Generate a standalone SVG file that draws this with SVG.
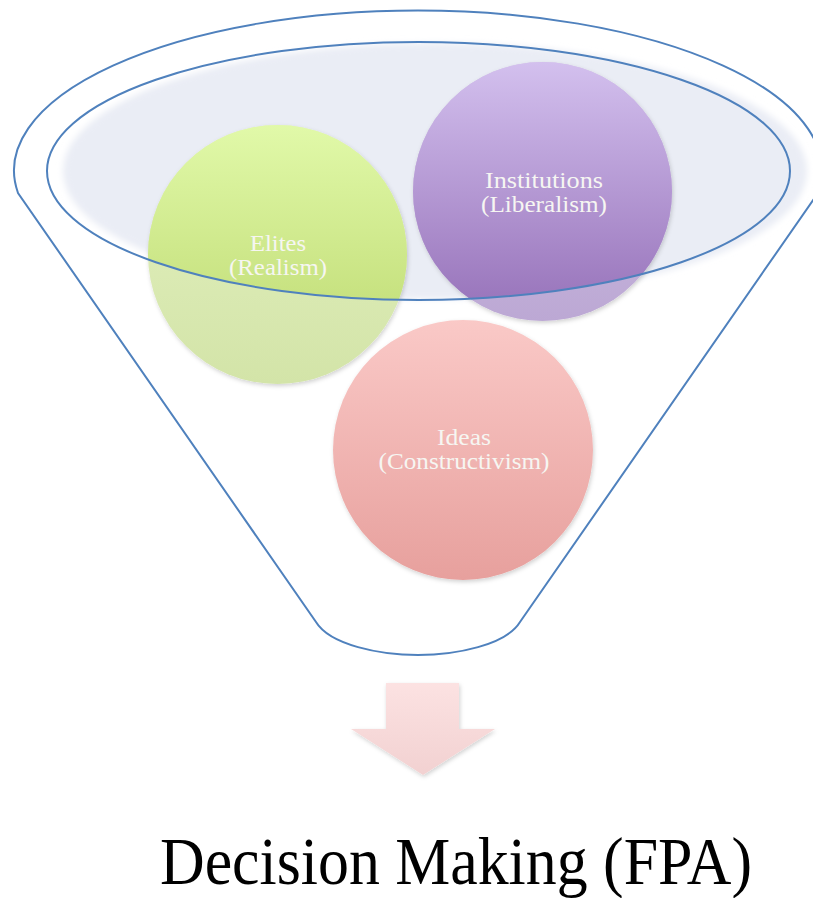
<svg xmlns="http://www.w3.org/2000/svg" width="813" height="898" viewBox="0 0 813 898">
  <defs>
    <style>
      .funnel { fill: none; stroke: #4f81bd; stroke-width: 2; }
      .lbl { font-family: "Liberation Serif", "DejaVu Serif", serif; font-size: 23.5px; fill: #f6f6f2; text-anchor: middle; }
      .title { font-family: "Liberation Serif", "DejaVu Serif", serif; font-size: 67px; fill: #000000; }
    </style>
    <linearGradient id="gGreen" x1="0" y1="0" x2="0" y2="1">
      <stop offset="0" stop-color="#e1f9a9"/>
      <stop offset="0.7" stop-color="#c6e17e"/>
      <stop offset="1" stop-color="#b9d96c"/>
    </linearGradient>
    <linearGradient id="gGreenPale" x1="0" y1="0" x2="0" y2="1">
      <stop offset="0" stop-color="#e4f2c2"/>
      <stop offset="1" stop-color="#d3e4a8"/>
    </linearGradient>
    <linearGradient id="gPurple" x1="0" y1="0" x2="0" y2="1">
      <stop offset="0" stop-color="#d3c0ee"/>
      <stop offset="1" stop-color="#9570b8"/>
    </linearGradient>
    <linearGradient id="gPurplePale" x1="0" y1="0" x2="0" y2="1">
      <stop offset="0" stop-color="#d3c4e6"/>
      <stop offset="1" stop-color="#bca8d4"/>
    </linearGradient>
    <linearGradient id="gPink" x1="0" y1="0" x2="0" y2="1">
      <stop offset="0" stop-color="#fac9c7"/>
      <stop offset="1" stop-color="#e7a09d"/>
    </linearGradient>
    <linearGradient id="gArrow" x1="0" y1="0" x2="0" y2="1">
      <stop offset="0" stop-color="#fce2e2"/>
      <stop offset="1" stop-color="#f2d1d1"/>
    </linearGradient>
    <clipPath id="inEllipse">
      <ellipse cx="418.5" cy="171" rx="371.5" ry="129"/>
    </clipPath>
    <filter id="blur" x="-5%" y="-10%" width="110%" height="120%">
      <feGaussianBlur stdDeviation="3"/>
    </filter>
    <filter id="shadow" x="-10%" y="-10%" width="125%" height="125%">
      <feDropShadow dx="1" dy="2" stdDeviation="2" flood-color="#000000" flood-opacity="0.18"/>
    </filter>
  </defs>

  <rect width="813" height="898" fill="#ffffff"/>

  <g id="funnel">
    <path class="funnel" d="M18,193 A404,160 0 1,1 818,193 L520,622 C506,645 456,655 418,655 C380,655 330,645 316,622 Z"/>
    <ellipse cx="435" cy="171" rx="372" ry="128" fill="#eaedf5" filter="url(#blur)"/>
  </g>

  <g id="node-elites">
    <circle cx="277.5" cy="254.5" r="129.5" fill="url(#gGreenPale)" filter="url(#shadow)"/>
    <circle cx="277.5" cy="254.5" r="129.5" fill="url(#gGreen)" clip-path="url(#inEllipse)"/>
    <text class="lbl" x="278" y="251" textLength="56" lengthAdjust="spacingAndGlyphs">Elites</text>
    <text class="lbl" x="278" y="275" textLength="98" lengthAdjust="spacingAndGlyphs">(Realism)</text>
  </g>

  <g id="node-institutions">
    <circle cx="542.5" cy="191.5" r="129.5" fill="url(#gPurplePale)" filter="url(#shadow)"/>
    <circle cx="542.5" cy="191.5" r="129.5" fill="url(#gPurple)" clip-path="url(#inEllipse)"/>
    <text class="lbl" x="544" y="188" textLength="118" lengthAdjust="spacingAndGlyphs">Institutions</text>
    <text class="lbl" x="544" y="212" textLength="126" lengthAdjust="spacingAndGlyphs">(Liberalism)</text>
  </g>

  <g id="node-ideas">
    <circle cx="463" cy="450" r="130" fill="url(#gPink)" filter="url(#shadow)"/>
    <text class="lbl" x="464" y="445" textLength="54" lengthAdjust="spacingAndGlyphs">Ideas</text>
    <text class="lbl" x="464" y="469" textLength="171" lengthAdjust="spacingAndGlyphs">(Constructivism)</text>
  </g>

  <g id="funnel-rim">
    <ellipse class="funnel" cx="418.5" cy="171" rx="371.5" ry="129"/>
  </g>

  <g id="connectors">
    <polygon points="386,683 459,683 459,729 495,729 423,775 351,729 386,729" fill="url(#gArrow)" filter="url(#shadow)"/>
  </g>

  <g id="node-decision">
    <text class="title" x="160" y="884" textLength="592" lengthAdjust="spacingAndGlyphs">Decision Making (FPA)</text>
  </g>
</svg>
